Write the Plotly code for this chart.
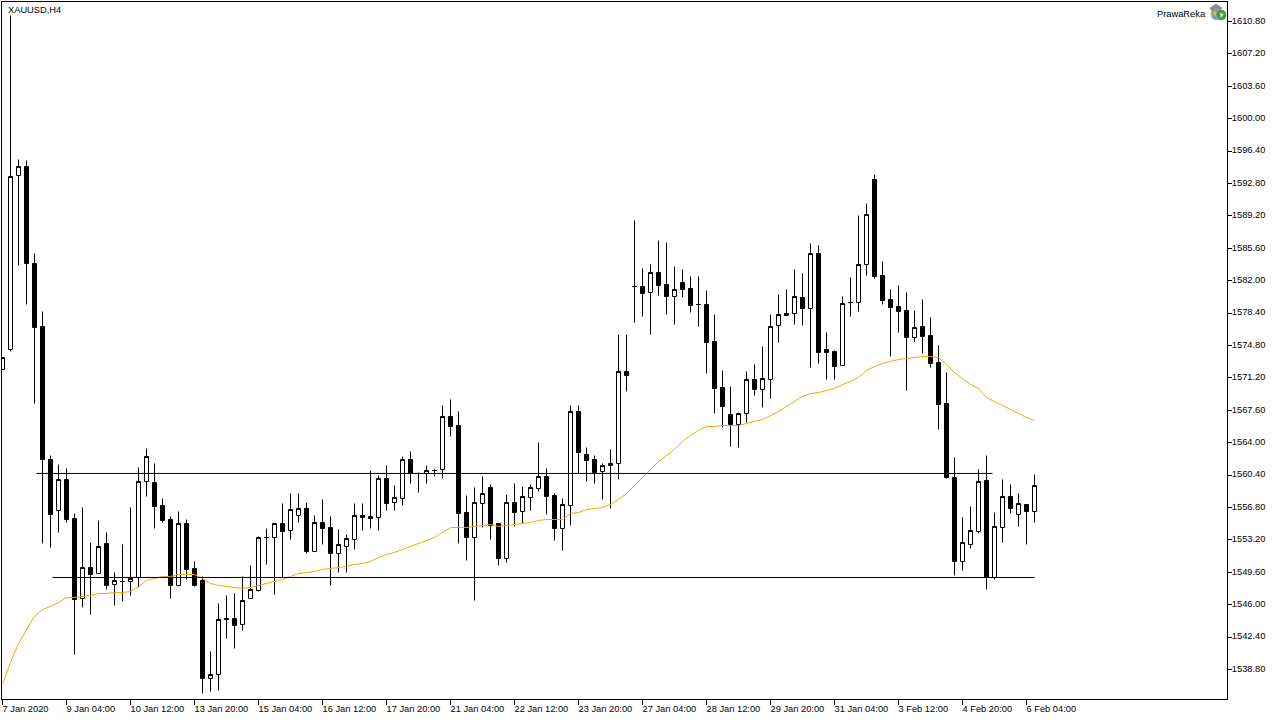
import plotly.graph_objects as go

SYMBOL = "XAUUSD,H4"
WATERMARK = "PrawaReka"
TICK_EVERY = 8
DATE_LABELS = ["7 Jan 2020", "9 Jan 04:00", "10 Jan 12:00", "13 Jan 20:00", "15 Jan 04:00",
               "16 Jan 12:00", "17 Jan 20:00", "21 Jan 04:00", "22 Jan 12:00", "23 Jan 20:00",
               "27 Jan 04:00", "28 Jan 12:00", "29 Jan 20:00", "31 Jan 04:00", "3 Feb 12:00",
               "4 Feb 20:00", "6 Feb 04:00"]
PRICE_TICKS = [1610.8, 1607.2, 1603.6, 1600.0, 1596.4, 1592.8, 1589.2, 1585.6, 1582.0, 1578.4,
               1574.8, 1571.2, 1567.6, 1564.0, 1560.4, 1556.8, 1553.2, 1549.6, 1546.0, 1542.4, 1538.8]

opens = [
    1572.13, 1574.35, 1593.69, 1594.69, 1583.91, 1576.91, 1562.13, 1556.46, 1559.91, 1555.57,
    1546.69, 1550.13, 1549.46, 1552.80, 1548.24, 1548.57, 1548.57, 1549.02, 1559.69, 1559.57,
    1557.02, 1555.46, 1548.13, 1555.02, 1550.02, 1548.69, 1537.80, 1538.24, 1544.46, 1544.46,
    1543.80, 1546.69, 1547.57, 1553.46, 1553.46, 1555.02, 1554.24, 1555.91, 1556.69, 1551.91,
    1555.13, 1554.57, 1551.69, 1552.46, 1553.24, 1555.91, 1555.80, 1555.69, 1560.02, 1557.35,
    1557.80, 1562.13, 1560.57, 1560.57, 1560.91, 1561.02, 1566.91, 1565.91, 1556.24, 1553.46,
    1557.24, 1559.02, 1555.02, 1551.13, 1557.35, 1556.35, 1557.91, 1558.91, 1560.24, 1558.13,
    1554.46, 1557.02, 1567.46, 1562.69, 1562.13, 1560.80, 1561.46, 1561.69, 1571.91, 1581.35,
    1581.35, 1580.69, 1582.91, 1581.57, 1580.24, 1581.80, 1581.13, 1579.35, 1579.35, 1575.24,
    1570.13, 1567.13, 1566.02, 1567.24, 1571.02, 1569.91, 1571.02, 1577.02, 1578.35, 1578.35,
    1580.13, 1578.91, 1585.02, 1574.35, 1574.13, 1572.57, 1579.57, 1579.57, 1583.80, 1593.24,
    1582.57, 1579.91, 1579.13, 1578.69, 1575.69, 1576.91, 1575.91, 1572.91, 1568.35, 1560.13,
    1550.80, 1552.69, 1554.13, 1559.80, 1549.02, 1554.57, 1558.02, 1556.02, 1557.13, 1556.35,
]
highs = [
    1573.46, 1611.46, 1595.46, 1595.35, 1585.02, 1578.57, 1562.57, 1561.57, 1561.13, 1556.13,
    1556.80, 1552.91, 1555.35, 1554.02, 1549.57, 1552.69, 1556.80, 1561.24, 1563.35, 1561.69,
    1557.80, 1555.80, 1556.35, 1555.46, 1550.80, 1549.13, 1540.80, 1546.13, 1547.02, 1547.24,
    1549.13, 1550.35, 1553.57, 1554.46, 1555.02, 1557.24, 1558.35, 1558.35, 1557.35, 1555.91,
    1557.69, 1555.80, 1554.35, 1553.80, 1557.24, 1557.24, 1560.91, 1560.35, 1561.46, 1559.24,
    1562.46, 1563.02, 1560.69, 1561.46, 1561.02, 1568.13, 1568.80, 1567.46, 1558.13, 1559.02,
    1560.24, 1559.35, 1555.02, 1558.24, 1559.46, 1559.13, 1559.35, 1564.02, 1561.13, 1558.35,
    1557.80, 1568.13, 1568.13, 1563.46, 1562.57, 1561.69, 1563.24, 1576.02, 1576.02, 1588.69,
    1583.35, 1583.80, 1586.46, 1586.24, 1583.57, 1583.24, 1582.46, 1582.46, 1580.91, 1578.24,
    1572.02, 1570.24, 1567.35, 1571.91, 1572.69, 1574.69, 1578.24, 1580.46, 1581.02, 1583.24,
    1582.80, 1586.13, 1585.91, 1576.24, 1574.24, 1580.24, 1582.35, 1589.24, 1590.57, 1593.80,
    1584.13, 1581.02, 1581.46, 1580.69, 1578.69, 1579.91, 1577.91, 1574.80, 1571.80, 1562.35,
    1555.69, 1556.91, 1561.02, 1562.57, 1556.24, 1559.91, 1559.35, 1558.35, 1557.13, 1560.46,
]
lows = [
    1572.13, 1574.13, 1583.69, 1579.35, 1568.35, 1552.80, 1552.35, 1554.02, 1555.13, 1540.46,
    1545.69, 1544.91, 1549.46, 1547.69, 1545.91, 1546.35, 1547.02, 1547.91, 1558.02, 1554.46,
    1555.13, 1546.69, 1548.02, 1548.80, 1548.02, 1536.13, 1536.35, 1536.46, 1542.24, 1541.13,
    1543.13, 1546.69, 1547.46, 1550.46, 1547.13, 1549.02, 1553.24, 1555.13, 1551.69, 1551.91,
    1552.69, 1548.13, 1549.57, 1549.57, 1552.13, 1554.24, 1554.46, 1554.24, 1556.46, 1556.46,
    1557.02, 1559.46, 1558.46, 1559.46, 1560.24, 1560.02, 1564.69, 1552.80, 1550.91, 1546.46,
    1554.57, 1553.24, 1550.35, 1550.69, 1554.69, 1555.02, 1556.46, 1558.57, 1556.02, 1553.13,
    1552.02, 1554.80, 1560.57, 1559.69, 1559.46, 1557.69, 1556.69, 1559.91, 1569.69, 1577.35,
    1578.02, 1576.02, 1580.35, 1578.24, 1577.13, 1580.13, 1578.46, 1576.91, 1571.69, 1567.24,
    1565.69, 1563.57, 1563.46, 1566.24, 1569.24, 1567.91, 1568.91, 1575.13, 1578.13, 1577.13,
    1577.02, 1572.35, 1572.80, 1571.02, 1571.02, 1572.57, 1578.02, 1578.57, 1582.57, 1582.24,
    1579.35, 1573.57, 1576.24, 1569.80, 1575.24, 1573.91, 1572.35, 1565.46, 1560.02, 1549.24,
    1549.80, 1552.24, 1553.91, 1547.69, 1548.80, 1552.91, 1556.13, 1554.69, 1552.69, 1555.13,
]
closes = [
    1573.46, 1593.57, 1594.69, 1583.91, 1576.80, 1562.13, 1556.02, 1559.91, 1555.46, 1546.57,
    1550.13, 1549.35, 1552.46, 1548.13, 1548.69, 1548.57, 1548.91, 1559.69, 1562.46, 1556.91,
    1555.35, 1548.13, 1555.02, 1549.91, 1548.13, 1537.80, 1538.24, 1544.35, 1544.35, 1543.69,
    1546.46, 1547.69, 1553.46, 1553.46, 1555.02, 1554.13, 1556.57, 1556.69, 1551.91, 1555.13,
    1554.46, 1551.69, 1552.69, 1553.35, 1555.91, 1555.69, 1555.57, 1560.02, 1557.24, 1557.91,
    1562.13, 1560.57, 1560.57, 1560.91, 1560.91, 1566.91, 1565.80, 1556.13, 1553.46, 1557.35,
    1558.35, 1554.80, 1551.13, 1557.35, 1556.24, 1558.02, 1559.02, 1560.24, 1558.02, 1554.46,
    1557.13, 1567.46, 1562.91, 1562.02, 1560.69, 1561.46, 1561.69, 1571.91, 1571.46, 1581.35,
    1580.57, 1582.91, 1581.46, 1580.24, 1581.02, 1581.02, 1579.24, 1579.35, 1575.13, 1570.02,
    1568.02, 1566.02, 1567.24, 1571.02, 1569.91, 1571.13, 1576.91, 1578.24, 1578.13, 1580.24,
    1578.91, 1585.02, 1574.02, 1574.02, 1572.46, 1579.46, 1579.57, 1583.80, 1589.35, 1582.46,
    1579.80, 1579.02, 1578.57, 1575.69, 1576.80, 1575.80, 1572.80, 1568.24, 1560.13, 1550.80,
    1552.91, 1554.24, 1559.69, 1549.02, 1554.69, 1558.02, 1556.69, 1557.24, 1556.35, 1559.24,
]
moving_average = [
    1537.13, 1539.57, 1541.69, 1543.24, 1544.69, 1545.46, 1545.80, 1546.24, 1546.80, 1546.80,
    1546.91, 1547.02, 1547.24, 1547.24, 1547.35, 1547.35, 1547.46, 1548.02, 1548.69, 1548.91,
    1549.13, 1549.13, 1549.35, 1549.35, 1549.35, 1548.91, 1548.35, 1548.13, 1548.02, 1547.91,
    1547.80, 1547.91, 1548.13, 1548.35, 1548.57, 1548.80, 1549.13, 1549.46, 1549.57, 1549.69,
    1549.91, 1550.02, 1550.13, 1550.24, 1550.46, 1550.57, 1550.80, 1551.24, 1551.57, 1551.80,
    1552.13, 1552.46, 1552.80, 1553.13, 1553.46, 1554.02, 1554.57, 1554.57, 1554.57, 1554.69,
    1554.80, 1554.91, 1554.69, 1554.80, 1554.91, 1555.02, 1555.13, 1555.35, 1555.46, 1555.46,
    1555.46, 1556.13, 1556.24, 1556.57, 1556.69, 1556.80, 1557.13, 1557.69, 1558.35, 1559.24,
    1560.13, 1561.13, 1561.91, 1562.57, 1563.24, 1564.13, 1564.80, 1565.35, 1565.80, 1565.80,
    1565.91, 1565.91, 1565.91, 1566.13, 1566.35, 1566.57, 1567.02, 1567.46, 1568.02, 1568.57,
    1569.13, 1569.46, 1569.57, 1569.80, 1570.02, 1570.46, 1570.80, 1571.24, 1572.02, 1572.46,
    1572.80, 1573.02, 1573.24, 1573.35, 1573.46, 1573.57, 1573.57, 1573.46, 1572.69, 1571.80,
    1571.13, 1570.46, 1570.02, 1569.02, 1568.57, 1568.13, 1567.69, 1567.24, 1566.80, 1566.46,
]
level_upper = 1560.58
level_upper_span = [4.25, 123.75]
level_lower = 1549.02
level_lower_span = [6.25, 129]

bars = list(range(len(closes)))
BLACK = "#000000"

fig = go.Figure()
fig.add_trace(go.Candlestick(
    x=bars, open=opens, high=highs, low=lows, close=closes,
    increasing=dict(line=dict(color=BLACK, width=1), fillcolor="#FFFFFF"),
    decreasing=dict(line=dict(color=BLACK, width=1), fillcolor=BLACK),
    whiskerwidth=0, showlegend=False,
))
fig.add_trace(go.Scatter(x=bars, y=moving_average, mode="lines",
                         line=dict(color="#FFA500", width=1), showlegend=False))
fig.add_trace(go.Scatter(x=level_upper_span, y=[level_upper, level_upper], mode="lines",
                         line=dict(color=BLACK, width=1), showlegend=False))
fig.add_trace(go.Scatter(x=level_lower_span, y=[level_lower, level_lower], mode="lines",
                         line=dict(color=BLACK, width=1), showlegend=False))

FONT = dict(family="Liberation Sans", size=9.3, color=BLACK)

PLOT_L, PLOT_R, PLOT_T, PLOT_B = 2, 1227, 2, 699
def px(x):
    return (x - PLOT_L) / (PLOT_R - PLOT_L)
def py(y):
    return (PLOT_B - y) / (PLOT_B - PLOT_T)
def circle(x0, y0, x1, y1, fill, line=None):
    return dict(type="circle", xref="paper", yref="paper", x0=px(x0), x1=px(x1), y0=py(y1), y1=py(y0),
                fillcolor=fill, line=dict(color=line or fill, width=0.5), layer="above")

badge = [
    dict(type="path", xref="paper", yref="paper",
         path=f"M {px(1210)} {py(8)} L {px(1216)} {py(4)} L {px(1222)} {py(8)} L {px(1218)} {py(12)} L {px(1212)} {py(11)} Z",
         fillcolor="#8A8A8A", line=dict(color="#6E6E6E", width=0.5), layer="above"),
    circle(1211, 9, 1222, 20, "#7FA8D8"),
    dict(type="path", xref="paper", yref="paper",
         path=f"M {px(1212)} {py(11)} L {px(1218)} {py(11)} L {px(1215)} {py(18)} Z",
         fillcolor="#D9C23A", line=dict(color="#8C6A20", width=0.5), layer="above"),
    circle(1217, 10, 1226, 20, "#3FA535", "#2C7D28"),
    dict(type="path", xref="paper", yref="paper",
         path=f"M {px(1220.5)} {py(12.5)} L {px(1223.5)} {py(15)} L {px(1220.5)} {py(17.5)} Z",
         fillcolor="#FFFFFF", line=dict(color="#FFFFFF", width=0), layer="above"),
]

fig.update_layout(
    width=1280, height=720, autosize=False,
    margin=dict(l=PLOT_L, r=1280 - PLOT_R, t=PLOT_T, b=720 - PLOT_B, pad=0),
    paper_bgcolor="#FFFFFF", plot_bgcolor="#FFFFFF",
    showlegend=False, font=FONT, shapes=badge, boxgap=0.3, boxgroupgap=0.2857,
    xaxis=dict(range=[-0.0625, 153.0625], rangeslider=dict(visible=False),
               tickmode="array",
               tickvals=[i * TICK_EVERY for i in range(len(DATE_LABELS))],
               ticktext=DATE_LABELS, ticklabelposition="outside right",
               ticklabelshift=-1, ticklabelstandoff=1,
               ticks="outside", ticklen=5, tickwidth=1, tickcolor=BLACK,
               showgrid=False, zeroline=False, showline=True, linecolor=BLACK, linewidth=1,
               mirror=True, tickfont=FONT, automargin=False),
    yaxis=dict(range=[1535.516, 1612.966], side="right",
               tickmode="array", tickvals=PRICE_TICKS,
               ticktext=[f"{p:.2f}" for p in PRICE_TICKS],
               ticklabelstandoff=-2, ticklabelshift=-1,
               ticks="outside", ticklen=4, tickwidth=1, tickcolor=BLACK,
               showgrid=False, zeroline=False, showline=True, linecolor=BLACK, linewidth=1,
               mirror=True, tickfont=FONT, automargin=False),
    annotations=[
        dict(text=SYMBOL, xref="paper", yref="paper", x=px(5.5), y=py(10), xanchor="left", yanchor="middle",
             showarrow=False, font=FONT),
        dict(text=WATERMARK, xref="paper", yref="paper", x=px(1208), y=py(14), xanchor="right", yanchor="middle",
             showarrow=False, font=FONT),
    ],
)

fig.write_html("out.html", config=dict(displayModeBar=False),
               post_script="document.body.style.margin='0';document.body.style.overflow='hidden';")
